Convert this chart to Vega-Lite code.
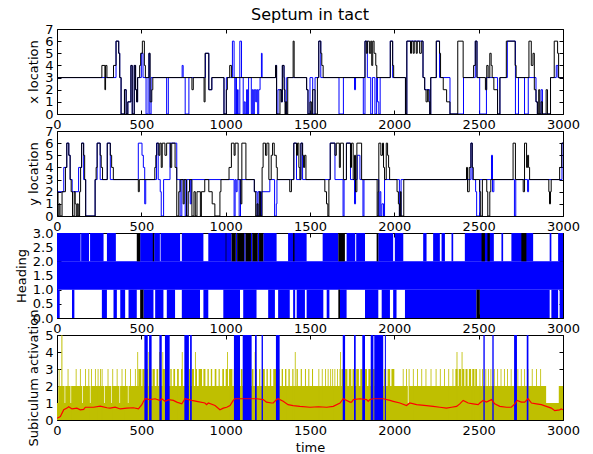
{
  "$schema": "https://vega.github.io/schema/vega-lite/v6.json",
  "padding": {"left": 14, "top": 6, "right": 10, "bottom": 5},
  "spacing": 17,
  "bounds": "flush",
  "config": {
    "font": "DejaVu Sans",
    "view": {"stroke": "black", "strokeWidth": 1},
    "axis": {
      "grid": false, "domain": false, "ticks": true, "tickColor": "black", "tickSize": -4,
      "labelPadding": 8, "labelFontSize": 13, "labelColor": "black", "labelFlush": false, "labelOverlap": false,
      "titleFontSize": 13, "titleFontWeight": "normal", "titleColor": "black", "titlePadding": 4
    },
    "title": {"fontSize": 16, "fontWeight": "normal", "color": "black"}
  },
  "datasets": {
    "x_black": [
      {"t":0,"v":3},{"t":266,"v":4},{"t":284,"v":2},{"t":288,"v":4},{"t":296,"v":3},{"t":335,"v":4},{"t":350,"v":6},{"t":366,"v":5},{"t":372,"v":3},{"t":380,"v":0},{"t":400,"v":2},{"t":410,"v":0},{"t":420,"v":1},{"t":438,"v":4},{"t":446,"v":0},{"t":458,"v":4},{"t":466,"v":2},{"t":472,"v":1},{"t":478,"v":3},{"t":490,"v":4},{"t":496,"v":5},{"t":506,"v":6},{"t":518,"v":4},{"t":524,"v":3},{"t":545,"v":5},{"t":552,"v":1},{"t":562,"v":2},{"t":568,"v":3},{"t":800,"v":2},{"t":808,"v":3},{"t":872,"v":1},{"t":878,"v":5},{"t":900,"v":2},{"t":918,"v":3},{"t":990,"v":0},{"t":1004,"v":2},{"t":1010,"v":3},{"t":1024,"v":4},{"t":1034,"v":3},{"t":1296,"v":4},{"t":1302,"v":0},{"t":1322,"v":2},{"t":1330,"v":1},{"t":1336,"v":4},{"t":1346,"v":2},{"t":1352,"v":0},{"t":1356,"v":1},{"t":1362,"v":0},{"t":1368,"v":3},{"t":1400,"v":6},{"t":1406,"v":3},{"t":1480,"v":2},{"t":1488,"v":0},{"t":1500,"v":1},{"t":1508,"v":0},{"t":1516,"v":2},{"t":1530,"v":0},{"t":1544,"v":3},{"t":1552,"v":6},{"t":1564,"v":5},{"t":1570,"v":4},{"t":1578,"v":3},{"t":1826,"v":6},{"t":1834,"v":5},{"t":1840,"v":6},{"t":1852,"v":5},{"t":1860,"v":6},{"t":1866,"v":4},{"t":1872,"v":6},{"t":1880,"v":5},{"t":1890,"v":4},{"t":1896,"v":3},{"t":1976,"v":6},{"t":1990,"v":4},{"t":1996,"v":3},{"t":2066,"v":0},{"t":2074,"v":6},{"t":2096,"v":5},{"t":2102,"v":6},{"t":2112,"v":5},{"t":2118,"v":6},{"t":2130,"v":5},{"t":2136,"v":6},{"t":2150,"v":5},{"t":2160,"v":6},{"t":2170,"v":3},{"t":2180,"v":2},{"t":2188,"v":1},{"t":2196,"v":2},{"t":2204,"v":1},{"t":2210,"v":0},{"t":2216,"v":3},{"t":2248,"v":6},{"t":2268,"v":5},{"t":2274,"v":3},{"t":2290,"v":2},{"t":2310,"v":1},{"t":2330,"v":0},{"t":2376,"v":6},{"t":2408,"v":3},{"t":2470,"v":4},{"t":2480,"v":6},{"t":2490,"v":3},{"t":2540,"v":2},{"t":2548,"v":4},{"t":2556,"v":3},{"t":2566,"v":5},{"t":2574,"v":4},{"t":2580,"v":3},{"t":2590,"v":2},{"t":2612,"v":0},{"t":2626,"v":3},{"t":2664,"v":6},{"t":2716,"v":4},{"t":2722,"v":3},{"t":2798,"v":6},{"t":2812,"v":4},{"t":2822,"v":5},{"t":2830,"v":2},{"t":2840,"v":1},{"t":2848,"v":0},{"t":2856,"v":2},{"t":2862,"v":0},{"t":2870,"v":1},{"t":2878,"v":0},{"t":2900,"v":2},{"t":2908,"v":0},{"t":2926,"v":3},{"t":2948,"v":6},{"t":2968,"v":5},{"t":2974,"v":3},{"t":3000,"v":3}
    ],
    "x_blue": [
      {"t":0,"v":3},{"t":350,"v":6},{"t":366,"v":5},{"t":372,"v":3},{"t":380,"v":0},{"t":400,"v":2},{"t":410,"v":0},{"t":420,"v":1},{"t":438,"v":4},{"t":446,"v":0},{"t":458,"v":4},{"t":466,"v":2},{"t":472,"v":1},{"t":478,"v":3},{"t":500,"v":5},{"t":510,"v":3},{"t":528,"v":0},{"t":540,"v":3},{"t":545,"v":5},{"t":550,"v":0},{"t":558,"v":3},{"t":650,"v":0},{"t":660,"v":3},{"t":742,"v":4},{"t":748,"v":3},{"t":760,"v":0},{"t":782,"v":3},{"t":880,"v":5},{"t":900,"v":2},{"t":918,"v":3},{"t":990,"v":0},{"t":1004,"v":3},{"t":1040,"v":6},{"t":1050,"v":3},{"t":1054,"v":0},{"t":1060,"v":3},{"t":1064,"v":0},{"t":1070,"v":2},{"t":1074,"v":0},{"t":1084,"v":6},{"t":1094,"v":3},{"t":1104,"v":0},{"t":1110,"v":1},{"t":1116,"v":0},{"t":1124,"v":2},{"t":1130,"v":0},{"t":1136,"v":3},{"t":1152,"v":0},{"t":1158,"v":2},{"t":1164,"v":0},{"t":1170,"v":2},{"t":1178,"v":1},{"t":1184,"v":2},{"t":1190,"v":0},{"t":1196,"v":2},{"t":1204,"v":3},{"t":1212,"v":5},{"t":1216,"v":3},{"t":1296,"v":4},{"t":1302,"v":0},{"t":1310,"v":2},{"t":1330,"v":1},{"t":1336,"v":4},{"t":1346,"v":3},{"t":1350,"v":1},{"t":1356,"v":0},{"t":1362,"v":3},{"t":1480,"v":2},{"t":1488,"v":0},{"t":1500,"v":3},{"t":1516,"v":0},{"t":1530,"v":3},{"t":1552,"v":6},{"t":1564,"v":3},{"t":1672,"v":0},{"t":1698,"v":3},{"t":1764,"v":2},{"t":1770,"v":3},{"t":1816,"v":0},{"t":1826,"v":6},{"t":1840,"v":3},{"t":1860,"v":0},{"t":1870,"v":3},{"t":1885,"v":0},{"t":1895,"v":3},{"t":1900,"v":1},{"t":1908,"v":0},{"t":1916,"v":3},{"t":1976,"v":6},{"t":1990,"v":3},{"t":2066,"v":0},{"t":2074,"v":6},{"t":2170,"v":3},{"t":2180,"v":2},{"t":2210,"v":0},{"t":2216,"v":3},{"t":2250,"v":6},{"t":2268,"v":3},{"t":2330,"v":0},{"t":2410,"v":3},{"t":2480,"v":6},{"t":2490,"v":3},{"t":2506,"v":0},{"t":2546,"v":3},{"t":2612,"v":0},{"t":2626,"v":3},{"t":2670,"v":6},{"t":2718,"v":0},{"t":2736,"v":3},{"t":2772,"v":0},{"t":2794,"v":3},{"t":2840,"v":1},{"t":2848,"v":0},{"t":2870,"v":2},{"t":2878,"v":0},{"t":2926,"v":3},{"t":2960,"v":4},{"t":2970,"v":3},{"t":3000,"v":3}
    ],
    "y_black": [
      {"t":0,"v":2},{"t":6,"v":0},{"t":12,"v":1},{"t":18,"v":0},{"t":30,"v":2},{"t":50,"v":4},{"t":58,"v":6},{"t":70,"v":5},{"t":78,"v":3},{"t":84,"v":2},{"t":92,"v":0},{"t":102,"v":2},{"t":108,"v":1},{"t":114,"v":0},{"t":120,"v":1},{"t":126,"v":0},{"t":134,"v":2},{"t":140,"v":4},{"t":146,"v":6},{"t":158,"v":5},{"t":164,"v":3},{"t":170,"v":0},{"t":226,"v":3},{"t":232,"v":4},{"t":238,"v":6},{"t":256,"v":5},{"t":262,"v":4},{"t":270,"v":3},{"t":298,"v":6},{"t":316,"v":5},{"t":324,"v":4},{"t":334,"v":3},{"t":482,"v":2},{"t":488,"v":3},{"t":580,"v":4},{"t":586,"v":5},{"t":592,"v":6},{"t":604,"v":5},{"t":610,"v":6},{"t":618,"v":4},{"t":624,"v":6},{"t":640,"v":5},{"t":650,"v":6},{"t":672,"v":4},{"t":680,"v":6},{"t":700,"v":4},{"t":710,"v":0},{"t":722,"v":2},{"t":730,"v":3},{"t":748,"v":1},{"t":754,"v":3},{"t":768,"v":0},{"t":778,"v":2},{"t":786,"v":3},{"t":800,"v":0},{"t":812,"v":2},{"t":820,"v":0},{"t":830,"v":2},{"t":850,"v":0},{"t":856,"v":2},{"t":876,"v":3},{"t":900,"v":2},{"t":920,"v":1},{"t":936,"v":0},{"t":966,"v":2},{"t":972,"v":3},{"t":1020,"v":4},{"t":1034,"v":6},{"t":1050,"v":5},{"t":1056,"v":6},{"t":1074,"v":3},{"t":1090,"v":1},{"t":1096,"v":6},{"t":1120,"v":3},{"t":1170,"v":2},{"t":1178,"v":0},{"t":1186,"v":1},{"t":1192,"v":0},{"t":1200,"v":2},{"t":1206,"v":0},{"t":1216,"v":4},{"t":1222,"v":6},{"t":1236,"v":5},{"t":1244,"v":6},{"t":1256,"v":3},{"t":1270,"v":5},{"t":1278,"v":6},{"t":1288,"v":5},{"t":1300,"v":4},{"t":1306,"v":3},{"t":1380,"v":2},{"t":1390,"v":3},{"t":1404,"v":6},{"t":1420,"v":5},{"t":1426,"v":6},{"t":1434,"v":4},{"t":1440,"v":3},{"t":1446,"v":6},{"t":1456,"v":5},{"t":1462,"v":4},{"t":1468,"v":5},{"t":1476,"v":3},{"t":1588,"v":2},{"t":1598,"v":1},{"t":1606,"v":0},{"t":1612,"v":3},{"t":1620,"v":6},{"t":1648,"v":5},{"t":1656,"v":6},{"t":1674,"v":4},{"t":1680,"v":6},{"t":1698,"v":3},{"t":1716,"v":6},{"t":1740,"v":4},{"t":1746,"v":6},{"t":1756,"v":3},{"t":1764,"v":5},{"t":1770,"v":2},{"t":1778,"v":6},{"t":1806,"v":3},{"t":1898,"v":0},{"t":1904,"v":2},{"t":1908,"v":6},{"t":1920,"v":5},{"t":1930,"v":6},{"t":1936,"v":4},{"t":1942,"v":3},{"t":1952,"v":6},{"t":1960,"v":5},{"t":1966,"v":4},{"t":1972,"v":3},{"t":2016,"v":2},{"t":2024,"v":1},{"t":2030,"v":0},{"t":2036,"v":2},{"t":2040,"v":0},{"t":2056,"v":3},{"t":2428,"v":4},{"t":2434,"v":2},{"t":2444,"v":4},{"t":2454,"v":6},{"t":2462,"v":4},{"t":2468,"v":3},{"t":2506,"v":2},{"t":2512,"v":0},{"t":2522,"v":3},{"t":2548,"v":2},{"t":2554,"v":0},{"t":2566,"v":2},{"t":2572,"v":3},{"t":2704,"v":6},{"t":2718,"v":3},{"t":2764,"v":2},{"t":2772,"v":6},{"t":2784,"v":4},{"t":2790,"v":5},{"t":2796,"v":4},{"t":2802,"v":3},{"t":2916,"v":2},{"t":2920,"v":1},{"t":2926,"v":2},{"t":2930,"v":3},{"t":2980,"v":4},{"t":2992,"v":6},{"t":3000,"v":6}
    ],
    "y_blue": [
      {"t":0,"v":2},{"t":40,"v":4},{"t":58,"v":6},{"t":70,"v":5},{"t":78,"v":3},{"t":90,"v":2},{"t":128,"v":4},{"t":146,"v":6},{"t":158,"v":3},{"t":170,"v":0},{"t":226,"v":3},{"t":238,"v":6},{"t":256,"v":3},{"t":298,"v":6},{"t":316,"v":3},{"t":482,"v":6},{"t":504,"v":5},{"t":512,"v":4},{"t":520,"v":1},{"t":526,"v":3},{"t":590,"v":6},{"t":600,"v":3},{"t":612,"v":2},{"t":618,"v":0},{"t":632,"v":3},{"t":670,"v":6},{"t":710,"v":3},{"t":730,"v":0},{"t":740,"v":3},{"t":760,"v":0},{"t":770,"v":3},{"t":790,"v":1},{"t":796,"v":3},{"t":1050,"v":0},{"t":1056,"v":3},{"t":1062,"v":2},{"t":1068,"v":3},{"t":1080,"v":0},{"t":1088,"v":3},{"t":1170,"v":2},{"t":1186,"v":0},{"t":1192,"v":2},{"t":1206,"v":0},{"t":1212,"v":2},{"t":1262,"v":3},{"t":1290,"v":0},{"t":1300,"v":1},{"t":1304,"v":3},{"t":1404,"v":6},{"t":1420,"v":3},{"t":1446,"v":6},{"t":1456,"v":3},{"t":1620,"v":6},{"t":1648,"v":3},{"t":1696,"v":0},{"t":1702,"v":3},{"t":1716,"v":6},{"t":1740,"v":3},{"t":1764,"v":1},{"t":1770,"v":3},{"t":1780,"v":5},{"t":1796,"v":3},{"t":1814,"v":0},{"t":1820,"v":3},{"t":1908,"v":0},{"t":1914,"v":2},{"t":1920,"v":0},{"t":1926,"v":1},{"t":1936,"v":0},{"t":1942,"v":3},{"t":2030,"v":0},{"t":2040,"v":3},{"t":2454,"v":6},{"t":2462,"v":3},{"t":2482,"v":2},{"t":2488,"v":0},{"t":2506,"v":3},{"t":2576,"v":5},{"t":2582,"v":2},{"t":2590,"v":3},{"t":2712,"v":0},{"t":2720,"v":3},{"t":2790,"v":2},{"t":2796,"v":3},{"t":2994,"v":6},{"t":3000,"v":6}
    ],
    "h_blue": [
      {"t0":0,"t1":3000,"lo":1,"hi":2},
      {"t0":0,"t1":140,"lo":2,"hi":3},{"t0":143,"t1":190,"lo":2,"hi":3},{"t0":196,"t1":276,"lo":2,"hi":3},{"t0":296,"t1":349,"lo":2,"hi":3},{"t0":493,"t1":572,"lo":2,"hi":3},{"t0":576,"t1":610,"lo":2,"hi":3},{"t0":614,"t1":730,"lo":2,"hi":3},{"t0":740,"t1":868,"lo":2,"hi":3},{"t0":897,"t1":1035,"lo":2,"hi":3},{"t0":1060,"t1":1068,"lo":2,"hi":3},{"t0":1110,"t1":1118,"lo":2,"hi":3},{"t0":1150,"t1":1158,"lo":2,"hi":3},{"t0":1190,"t1":1198,"lo":2,"hi":3},{"t0":1223,"t1":1302,"lo":2,"hi":3},{"t0":1370,"t1":1480,"lo":2,"hi":3},{"t0":1575,"t1":1668,"lo":2,"hi":3},{"t0":1717,"t1":1768,"lo":2,"hi":3},{"t0":1774,"t1":1826,"lo":2,"hi":3},{"t0":1905,"t1":1993,"lo":2,"hi":3},{"t0":2003,"t1":2053,"lo":2,"hi":3},{"t0":2171,"t1":2191,"lo":2,"hi":3},{"t0":2230,"t1":2270,"lo":2,"hi":3},{"t0":2280,"t1":2300,"lo":2,"hi":3},{"t0":2339,"t1":2349,"lo":2,"hi":3},{"t0":2418,"t1":2590,"lo":2,"hi":3},{"t0":2635,"t1":2645,"lo":2,"hi":3},{"t0":2694,"t1":2823,"lo":2,"hi":3},{"t0":2921,"t1":2931,"lo":2,"hi":3},{"t0":2971,"t1":3000,"lo":2,"hi":3},
      {"t0":0,"t1":16,"lo":0,"hi":1},{"t0":89,"t1":103,"lo":0,"hi":1},{"t0":266,"t1":296,"lo":0,"hi":1},{"t0":335,"t1":355,"lo":0,"hi":1},{"t0":375,"t1":404,"lo":0,"hi":1},{"t0":424,"t1":473,"lo":0,"hi":1},{"t0":513,"t1":572,"lo":0,"hi":1},{"t0":582,"t1":631,"lo":0,"hi":1},{"t0":651,"t1":700,"lo":0,"hi":1},{"t0":740,"t1":848,"lo":0,"hi":1},{"t0":868,"t1":897,"lo":0,"hi":1},{"t0":986,"t1":1085,"lo":0,"hi":1},{"t0":1104,"t1":1183,"lo":0,"hi":1},{"t0":1252,"t1":1292,"lo":0,"hi":1},{"t0":1311,"t1":1380,"lo":0,"hi":1},{"t0":1400,"t1":1412,"lo":0,"hi":1},{"t0":1421,"t1":1470,"lo":0,"hi":1},{"t0":1480,"t1":1579,"lo":0,"hi":1},{"t0":1599,"t1":1615,"lo":0,"hi":1},{"t0":1678,"t1":1717,"lo":0,"hi":1},{"t0":1826,"t1":1905,"lo":0,"hi":1},{"t0":1925,"t1":1974,"lo":0,"hi":1},{"t0":1993,"t1":2013,"lo":0,"hi":1},{"t0":2063,"t1":2487,"lo":0,"hi":1},{"t0":2507,"t1":2921,"lo":0,"hi":1},{"t0":2931,"t1":2971,"lo":0,"hi":1},{"t0":2980,"t1":3000,"lo":0,"hi":1}
    ],
    "h_black": [
      {"t0":473,"t1":493,"lo":2,"hi":3},{"t0":568,"t1":576,"lo":2,"hi":3},{"t0":1000,"t1":1004,"lo":2,"hi":3},{"t0":1035,"t1":1060,"lo":2,"hi":3},{"t0":1068,"t1":1110,"lo":2,"hi":3},{"t0":1118,"t1":1150,"lo":2,"hi":3},{"t0":1158,"t1":1190,"lo":2,"hi":3},{"t0":1198,"t1":1223,"lo":2,"hi":3},{"t0":1400,"t1":1408,"lo":2,"hi":3},{"t0":1668,"t1":1707,"lo":2,"hi":3},{"t0":1895,"t1":1905,"lo":2,"hi":3},{"t0":2517,"t1":2537,"lo":2,"hi":3},{"t0":2552,"t1":2566,"lo":2,"hi":3},{"t0":2753,"t1":2783,"lo":2,"hi":3},
      {"t0":493,"t1":513,"lo":0,"hi":1},{"t0":1668,"t1":1678,"lo":0,"hi":1},{"t0":2487,"t1":2507,"lo":0,"hi":1}
    ],
    "s_yellow": [
      {"t0":0,"t1":3000,"v":1},
      {"t0":8,"t1":45,"v":2},{"t0":49,"t1":80,"v":2},{"t0":84,"t1":150,"v":2},{"t0":154,"t1":195,"v":2},{"t0":199,"t1":280,"v":2},{"t0":284,"t1":320,"v":2},{"t0":324,"t1":370,"v":2},{"t0":374,"t1":420,"v":2},{"t0":424,"t1":2080,"v":2},{"t0":2086,"t1":2900,"v":2},{"t0":2975,"t1":3000,"v":2},
      {"t0":482,"t1":500,"v":3},{"t0":506,"t1":520,"v":3},{"t0":528,"t1":540,"v":3},{"t0":548,"t1":560,"v":3},{"t0":566,"t1":580,"v":3},{"t0":590,"t1":600,"v":3},{"t0":610,"t1":618,"v":3},{"t0":626,"t1":640,"v":3},{"t0":650,"t1":660,"v":3},{"t0":672,"t1":680,"v":3},{"t0":690,"t1":700,"v":3},{"t0":712,"t1":722,"v":3},{"t0":735,"t1":745,"v":3},{"t0":760,"t1":770,"v":3},{"t0":782,"t1":790,"v":3},{"t0":800,"t1":812,"v":3},{"t0":822,"t1":830,"v":3},{"t0":840,"t1":860,"v":3},{"t0":868,"t1":880,"v":3},{"t0":892,"t1":900,"v":3},{"t0":912,"t1":920,"v":3},{"t0":935,"t1":945,"v":3},{"t0":958,"t1":965,"v":3},{"t0":980,"t1":990,"v":3},
      {"t0":1000,"t1":1012,"v":3},{"t0":1020,"t1":1040,"v":3},{"t0":1048,"t1":1060,"v":3},{"t0":1070,"t1":1080,"v":3},{"t0":1090,"t1":1100,"v":3},{"t0":1112,"t1":1120,"v":3},{"t0":1132,"t1":1142,"v":3},{"t0":1155,"t1":1165,"v":3},{"t0":1176,"t1":1186,"v":3},{"t0":1198,"t1":1206,"v":3},{"t0":1218,"t1":1232,"v":3},{"t0":1242,"t1":1250,"v":3},{"t0":1262,"t1":1270,"v":3},{"t0":1282,"t1":1300,"v":3},{"t0":1310,"t1":1320,"v":3},{"t0":1332,"t1":1340,"v":3},{"t0":1352,"t1":1360,"v":3},{"t0":1372,"t1":1380,"v":3},{"t0":1395,"t1":1402,"v":3},{"t0":1420,"t1":1428,"v":3},{"t0":1445,"t1":1452,"v":3},{"t0":1470,"t1":1476,"v":3},{"t0":1490,"t1":1496,"v":3},{"t0":1512,"t1":1518,"v":3},
      {"t0":1550,"t1":1555,"v":3},{"t0":1570,"t1":1575,"v":3},{"t0":1590,"t1":1595,"v":3},{"t0":1605,"t1":1610,"v":3},{"t0":1620,"t1":1625,"v":3},{"t0":1632,"t1":1637,"v":3},{"t0":1645,"t1":1650,"v":3},{"t0":1660,"t1":1665,"v":3},{"t0":1675,"t1":1680,"v":3},
      {"t0":1687,"t1":1700,"v":3},{"t0":1708,"t1":1722,"v":3},{"t0":1730,"t1":1745,"v":3},{"t0":1752,"t1":1766,"v":3},{"t0":1774,"t1":1790,"v":3},{"t0":1798,"t1":1812,"v":3},{"t0":1820,"t1":1838,"v":3},{"t0":1846,"t1":1860,"v":3},{"t0":1868,"t1":1884,"v":3},{"t0":1892,"t1":1906,"v":3},{"t0":1914,"t1":1930,"v":3},{"t0":1938,"t1":1952,"v":3},{"t0":1960,"t1":1975,"v":3},{"t0":1983,"t1":2000,"v":3},
      {"t0":2050,"t1":2055,"v":3},{"t0":2070,"t1":2075,"v":3},{"t0":2085,"t1":2090,"v":3},{"t0":2110,"t1":2115,"v":3},{"t0":2135,"t1":2140,"v":3},{"t0":2160,"t1":2165,"v":3},{"t0":2185,"t1":2190,"v":3},{"t0":2215,"t1":2220,"v":3},{"t0":2245,"t1":2250,"v":3},{"t0":2270,"t1":2275,"v":3},{"t0":2295,"t1":2300,"v":3},{"t0":2320,"t1":2325,"v":3},{"t0":2345,"t1":2350,"v":3},
      {"t0":2362,"t1":2375,"v":3},{"t0":2382,"t1":2395,"v":3},{"t0":2402,"t1":2415,"v":3},{"t0":2422,"t1":2434,"v":3},{"t0":2442,"t1":2455,"v":3},{"t0":2462,"t1":2475,"v":3},{"t0":2480,"t1":2490,"v":3},
      {"t0":2505,"t1":2510,"v":3},{"t0":2520,"t1":2525,"v":3},{"t0":2540,"t1":2545,"v":3},{"t0":2555,"t1":2560,"v":3},{"t0":2570,"t1":2575,"v":3},{"t0":2590,"t1":2595,"v":3},{"t0":2610,"t1":2615,"v":3},{"t0":2630,"t1":2635,"v":3},{"t0":2650,"t1":2655,"v":3},{"t0":2668,"t1":2673,"v":3},{"t0":2690,"t1":2695,"v":3},{"t0":2710,"t1":2715,"v":3},{"t0":2730,"t1":2735,"v":3},{"t0":2750,"t1":2755,"v":3},{"t0":2770,"t1":2775,"v":3},{"t0":2790,"t1":2795,"v":3},{"t0":2815,"t1":2820,"v":3},{"t0":2840,"t1":2845,"v":3},{"t0":2865,"t1":2870,"v":3},
      {"t0":10,"t1":15,"v":3},{"t0":63,"t1":68,"v":3},{"t0":111,"t1":116,"v":3},{"t0":136,"t1":141,"v":3},{"t0":166,"t1":171,"v":3},{"t0":186,"t1":191,"v":3},{"t0":202,"t1":207,"v":3},{"t0":225,"t1":230,"v":3},{"t0":241,"t1":246,"v":3},{"t0":255,"t1":260,"v":3},{"t0":265,"t1":270,"v":3},{"t0":300,"t1":305,"v":3},{"t0":328,"t1":333,"v":3},{"t0":354,"t1":359,"v":3},{"t0":383,"t1":388,"v":3},{"t0":403,"t1":408,"v":3},{"t0":433,"t1":438,"v":3},{"t0":462,"t1":467,"v":3},
      {"t0":26,"t1":32,"v":5},
      {"t0":476,"t1":481,"v":4},{"t0":542,"t1":547,"v":4},{"t0":605,"t1":610,"v":4},{"t0":625,"t1":630,"v":4},{"t0":740,"t1":745,"v":4},{"t0":818,"t1":823,"v":4},{"t0":1008,"t1":1013,"v":4},{"t0":1172,"t1":1177,"v":4},{"t0":1410,"t1":1415,"v":4},{"t0":1678,"t1":1683,"v":4},{"t0":2369,"t1":2374,"v":4},{"t0":2399,"t1":2404,"v":4},{"t0":2720,"t1":2725,"v":4}
    ],
    "s_blue": [
      {"t0":518,"t1":538,"v":5},{"t0":546,"t1":561,"v":5},{"t0":607,"t1":621,"v":5},{"t0":640,"t1":668,"v":5},{"t0":755,"t1":782,"v":5},{"t0":789,"t1":799,"v":5},{"t0":1049,"t1":1085,"v":5},{"t0":1101,"t1":1154,"v":5},{"t0":1174,"t1":1184,"v":5},{"t0":1213,"t1":1221,"v":5},{"t0":1298,"t1":1320,"v":5},{"t0":1694,"t1":1708,"v":5},{"t0":1761,"t1":1771,"v":5},{"t0":1810,"t1":1826,"v":5},{"t0":1860,"t1":1876,"v":5},{"t0":1881,"t1":1934,"v":5},{"t0":1944,"t1":1950,"v":5},{"t0":2528,"t1":2536,"v":5},{"t0":2581,"t1":2589,"v":5},{"t0":2710,"t1":2727,"v":5},{"t0":2785,"t1":2795,"v":5}
    ],
    "s_red": [
      {"t":0,"v":0.1},{"t":20,"v":0.2},{"t":40,"v":0.6},{"t":59,"v":0.7},{"t":69,"v":0.78},{"t":89,"v":0.65},{"t":118,"v":0.7},{"t":138,"v":0.6},{"t":158,"v":0.62},{"t":168,"v":0.75},{"t":217,"v":0.75},{"t":256,"v":0.82},{"t":296,"v":0.72},{"t":315,"v":0.7},{"t":345,"v":0.76},{"t":375,"v":0.65},{"t":414,"v":0.7},{"t":453,"v":0.72},{"t":483,"v":0.65},{"t":503,"v":0.9},{"t":513,"v":1.1},{"t":523,"v":1.25},{"t":552,"v":1.2},{"t":582,"v":1.25},{"t":611,"v":1.15},{"t":621,"v":1.25},{"t":641,"v":1.1},{"t":661,"v":1.2},{"t":690,"v":1.15},{"t":710,"v":1.05},{"t":740,"v":0.95},{"t":759,"v":1.25},{"t":799,"v":1.15},{"t":828,"v":1.1},{"t":877,"v":1.0},{"t":887,"v":0.9},{"t":897,"v":1.0},{"t":937,"v":0.85},{"t":966,"v":0.6},{"t":986,"v":0.7},{"t":1006,"v":0.75},{"t":1026,"v":0.85},{"t":1045,"v":1.15},{"t":1055,"v":1.25},{"t":1085,"v":1.25},{"t":1183,"v":1.25},{"t":1223,"v":1.2},{"t":1242,"v":1.05},{"t":1272,"v":1.0},{"t":1282,"v":1.0},{"t":1302,"v":1.2},{"t":1311,"v":1.25},{"t":1341,"v":1.1},{"t":1370,"v":0.9},{"t":1400,"v":0.85},{"t":1440,"v":0.8},{"t":1500,"v":0.75},{"t":1550,"v":0.78},{"t":1599,"v":0.75},{"t":1638,"v":0.8},{"t":1678,"v":1.0},{"t":1697,"v":1.25},{"t":1737,"v":1.05},{"t":1747,"v":1.05},{"t":1757,"v":1.2},{"t":1796,"v":1.25},{"t":1836,"v":1.2},{"t":1845,"v":1.1},{"t":1855,"v":1.2},{"t":1875,"v":1.25},{"t":1934,"v":1.25},{"t":1974,"v":1.15},{"t":1993,"v":1.1},{"t":2033,"v":1.0},{"t":2072,"v":0.85},{"t":2092,"v":1.0},{"t":2132,"v":0.9},{"t":2191,"v":0.85},{"t":2230,"v":0.8},{"t":2270,"v":0.75},{"t":2309,"v":0.7},{"t":2339,"v":0.75},{"t":2369,"v":0.8},{"t":2388,"v":0.95},{"t":2408,"v":1.15},{"t":2438,"v":1.0},{"t":2467,"v":0.95},{"t":2497,"v":0.9},{"t":2507,"v":1.0},{"t":2526,"v":1.15},{"t":2546,"v":1.05},{"t":2576,"v":1.2},{"t":2595,"v":0.95},{"t":2625,"v":0.8},{"t":2665,"v":0.75},{"t":2694,"v":0.75},{"t":2714,"v":0.95},{"t":2728,"v":1.15},{"t":2753,"v":1.05},{"t":2773,"v":1.05},{"t":2793,"v":1.25},{"t":2813,"v":1.0},{"t":2842,"v":0.95},{"t":2872,"v":0.9},{"t":2901,"v":0.8},{"t":2931,"v":0.7},{"t":2951,"v":0.55},{"t":2980,"v":0.6},{"t":2990,"v":0.65},{"t":3000,"v":0.6}
    ]
  },
  "vconcat": [
    {
      "width": 506, "height": 85,
      "title": {"text": "Septum in tact", "frame": "group", "offset": 0},
      "layer": [
        {
          "data": {"name": "x_blue"},
          "mark": {"type": "line", "interpolate": "step-after", "color": "#0000ff", "strokeWidth": 1, "clip": true},
          "encoding": {
            "x": {"field": "t", "type": "quantitative", "scale": {"domain": [0, 3000], "nice": false}, "axis": {"orient": "bottom", "values": [0, 500, 1000, 1500, 2000, 2500, 3000], "format": "d", "title": null}},
            "y": {"field": "v", "type": "quantitative", "scale": {"domain": [0, 7], "nice": false}, "axis": {"orient": "left", "values": [0, 1, 2, 3, 4, 5, 6, 7], "title": "x location"}}
          }
        },
        {
          "data": {"name": "x_black"},
          "mark": {"type": "line", "interpolate": "step-after", "color": "#000000", "strokeWidth": 1, "clip": true},
          "encoding": {
            "x": {"field": "t", "type": "quantitative", "axis": {"orient": "top", "labels": false, "values": [0, 500, 1000, 1500, 2000, 2500, 3000], "title": null}},
            "y": {"field": "v", "type": "quantitative", "axis": {"orient": "right", "labels": false, "values": [0, 1, 2, 3, 4, 5, 6, 7], "title": null}}
          }
        }
      ],
      "resolve": {"axis": {"x": "independent", "y": "independent"}}
    },
    {
      "width": 506, "height": 85,
      "layer": [
        {
          "data": {"name": "y_blue"},
          "mark": {"type": "line", "interpolate": "step-after", "color": "#0000ff", "strokeWidth": 1, "clip": true},
          "encoding": {
            "x": {"field": "t", "type": "quantitative", "scale": {"domain": [0, 3000], "nice": false}, "axis": {"orient": "bottom", "values": [0, 500, 1000, 1500, 2000, 2500, 3000], "format": "d", "title": null}},
            "y": {"field": "v", "type": "quantitative", "scale": {"domain": [0, 7], "nice": false}, "axis": {"orient": "left", "values": [0, 1, 2, 3, 4, 5, 6, 7], "title": "y location"}}
          }
        },
        {
          "data": {"name": "y_black"},
          "mark": {"type": "line", "interpolate": "step-after", "color": "#000000", "strokeWidth": 1, "clip": true},
          "encoding": {
            "x": {"field": "t", "type": "quantitative", "axis": {"orient": "top", "labels": false, "values": [0, 500, 1000, 1500, 2000, 2500, 3000], "title": null}},
            "y": {"field": "v", "type": "quantitative", "axis": {"orient": "right", "labels": false, "values": [0, 1, 2, 3, 4, 5, 6, 7], "title": null}}
          }
        }
      ],
      "resolve": {"axis": {"x": "independent", "y": "independent"}}
    },
    {
      "width": 506, "height": 85,
      "layer": [
        {
          "data": {"name": "h_blue"},
          "mark": {"type": "rect", "color": "#0000ff", "clip": true},
          "encoding": {
            "x": {"field": "t0", "type": "quantitative", "scale": {"domain": [0, 3000], "nice": false}, "axis": {"orient": "bottom", "values": [0, 500, 1000, 1500, 2000, 2500, 3000], "format": "d", "title": null}},
            "x2": {"field": "t1"},
            "y": {"field": "lo", "type": "quantitative", "scale": {"domain": [0, 3], "nice": false}, "axis": {"orient": "left", "values": [0, 0.5, 1, 1.5, 2, 2.5, 3], "format": ".1f", "title": "Heading"}},
            "y2": {"field": "hi"}
          }
        },
        {
          "data": {"name": "h_black"},
          "mark": {"type": "rect", "color": "#000000", "clip": true},
          "encoding": {
            "x": {"field": "t0", "type": "quantitative", "axis": {"orient": "top", "labels": false, "values": [0, 500, 1000, 1500, 2000, 2500, 3000], "title": null}},
            "x2": {"field": "t1"},
            "y": {"field": "lo", "type": "quantitative", "axis": {"orient": "right", "labels": false, "values": [0, 0.5, 1, 1.5, 2, 2.5, 3], "title": null}},
            "y2": {"field": "hi"}
          }
        }
      ],
      "resolve": {"axis": {"x": "independent", "y": "independent"}}
    },
    {
      "width": 506, "height": 85,
      "layer": [
        {
          "data": {"name": "s_yellow"},
          "mark": {"type": "rect", "color": "#bfbf00", "clip": true},
          "encoding": {
            "x": {"field": "t0", "type": "quantitative", "scale": {"domain": [0, 3000], "nice": false}, "axis": {"orient": "bottom", "values": [0, 500, 1000, 1500, 2000, 2500, 3000], "format": "d", "title": "time"}},
            "x2": {"field": "t1"},
            "y": {"field": "v", "type": "quantitative", "scale": {"domain": [0, 5], "nice": false}, "axis": {"orient": "left", "values": [0, 1, 2, 3, 4, 5], "title": "Subiculum activation"}},
            "y2": {"datum": 0}
          }
        },
        {
          "data": {"name": "s_blue"},
          "mark": {"type": "rect", "color": "#0000ff", "clip": true},
          "encoding": {
            "x": {"field": "t0", "type": "quantitative", "axis": null},
            "x2": {"field": "t1"},
            "y": {"field": "v", "type": "quantitative", "axis": null},
            "y2": {"datum": 0}
          }
        },
        {
          "data": {"name": "s_red"},
          "mark": {"type": "line", "color": "#ff0000", "strokeWidth": 1.2, "clip": true},
          "encoding": {
            "x": {"field": "t", "type": "quantitative", "axis": {"orient": "top", "labels": false, "values": [0, 500, 1000, 1500, 2000, 2500, 3000], "title": null}},
            "y": {"field": "v", "type": "quantitative", "axis": {"orient": "right", "labels": false, "values": [0, 1, 2, 3, 4, 5], "title": null}}
          }
        }
      ],
      "resolve": {"axis": {"x": "independent", "y": "independent"}}
    }
  ]
}
